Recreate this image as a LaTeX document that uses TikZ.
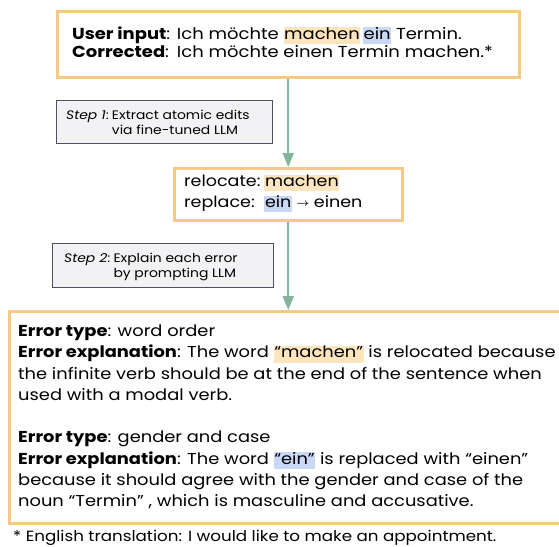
\documentclass[tikz,border=0pt]{standalone}
\usepackage{fontspec}
\setmainfont{Poppins}[FakeStretch=1.13]
\usetikzlibrary{arrows.meta}
\definecolor{boxorange}{HTML}{F6CA85}
\definecolor{hlorange}{HTML}{FFE5BD}
\definecolor{hlblue}{HTML}{C9D9F5}
\definecolor{arrowgreen}{HTML}{82B59B}
\definecolor{stepborder}{HTML}{4F4F66}
\definecolor{stepfill}{HTML}{F2F2F4}
\newcommand{\hlstrut}{\rule[-0.3em]{0pt}{1.05em}}
\newcommand{\hlo}[1]{{\setlength{\fboxsep}{0pt}\colorbox{hlorange}{\hlstrut\kern0.6pt#1\kern0.6pt}}}
\newcommand{\hlb}[1]{{\setlength{\fboxsep}{0pt}\colorbox{hlblue}{\hlstrut\kern0.6pt#1\kern0.6pt}}}
\newcommand{\smarrow}{\raisebox{0.8pt}{\fontsize{10.5}{10}\selectfont$\boldsymbol{\rightarrow}$}}
\newcommand{\gap}[1]{\kern#1em}
\usepackage{amsmath}
\tikzset{
  mainbox/.style={draw=boxorange, line width=2.5pt, fill=white, inner sep=0pt, anchor=north west},
  stepbox/.style={draw=stepborder, line width=1pt, fill=stepfill, inner sep=0pt, anchor=north west},
  txt/.style={inner sep=0pt, anchor=base west},
  flow/.style={draw=arrowgreen, line width=2pt, -{Triangle[length=14pt,width=11pt]}}
}
\begin{document}
\begin{tikzpicture}[x=1pt,y=-1pt]
\useasboundingbox (0,0) rectangle (559,546);
\begin{scope}
\clip (0,0) rectangle (559,546);
% boxes
\node[mainbox, minimum width=462pt, minimum height=66pt] (top) at (56,10) {};
\node[stepbox, minimum width=216pt, minimum height=43pt] (s1) at (56,100) {};
\node[mainbox, minimum width=228pt, minimum height=52pt] (rel) at (173,167) {};
\node[stepbox, minimum width=221pt, minimum height=44pt] (s2) at (52,243) {};
\node[mainbox, minimum width=562pt, minimum height=212pt] (big) at (8,310) {};
% texts
\node[txt, font=\fontsize{15.9}{18.5}\selectfont] (toptext) at (72,39)
  {\begin{tabular}[t]{@{}l@{}l@{}}\textbf{User input}:\gap{0.28} & Ich möchte \hlo{machen}\,\hlb{ein} Termin.\\
   \textbf{Corrected}:\gap{0.5} & Ich möchte einen Termin machen.*\end{tabular}};
\node[txt, font=\fontsize{12.3}{15}\selectfont] (s1text) at (66,119)
  {\begin{tabular}[t]{@{}l@{}l@{}}\textit{Step 1}:\gap{0.25} & Extract atomic edits\\ & via fine-tuned LLM\end{tabular}};
\node[txt, font=\fontsize{15.5}{21}\selectfont] (reltext) at (184,186.7)
  {\begin{tabular}[t]{@{}l@{}l@{}}relocate:\gap{0.25} & \hlo{machen}\\ replace:\gap{0.5} & \hlb{ein} \smarrow{} einen\end{tabular}};
\node[txt, font=\fontsize{12.3}{15}\selectfont] (s2text) at (64,262)
  {\begin{tabular}[t]{@{}l@{}l@{}}\textit{Step 2}:\gap{0.25} & Explain each error\\ & by prompting LLM\end{tabular}};
\node[txt, font=\fontsize{15.8}{21.25}\selectfont] (bigtext) at (18,336.7)
  {\begin{tabular}[t]{@{}l@{}}\textbf{Error type}: word order\\
   \textbf{Error explanation}: The word \hlo{“machen”} is relocated because\\
   the infinite verb should be at the end of the sentence when\\
   used with a modal verb.\\
   \\
   \textbf{Error type}: gender and case\\
   \textbf{Error explanation}: The word \hlb{“ein”} is replaced with “einen”\\
   because it should agree with the gender and case of the\\
   noun “Termin” , which is masculine and accusative.\end{tabular}};
\end{scope}
\node[txt, font=\fontsize{14.8}{16}\selectfont] (foot) at (13,541.5) {* English translation: I would like to make an appointment.};
\draw[flow] (top.south) -- (rel.north);
\draw[flow] (rel.south) -- (rel.south |- big.north);
\end{tikzpicture}
\end{document}
